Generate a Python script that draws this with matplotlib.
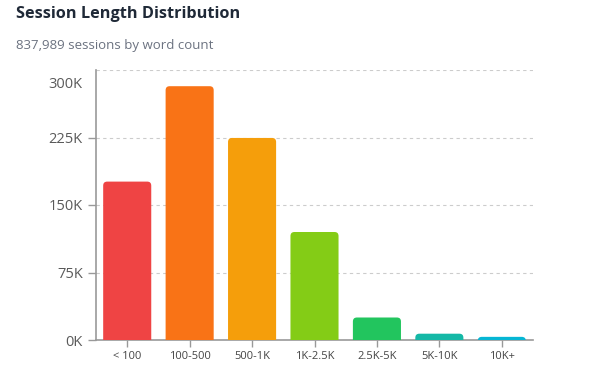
import matplotlib
matplotlib.use("Agg")
import matplotlib.pyplot as plt
from matplotlib.patches import FancyBboxPatch
from matplotlib.ticker import FuncFormatter
from matplotlib.transforms import ScaledTranslation

categories = ["< 100", "100-500", "500-1K", "1K-2.5K", "2.5K-5K", "5K-10K", "10K+"]
sessions = [176000, 282000, 224500, 120000, 25000, 7000, 3500]
colors = ["#EF4444", "#F97316", "#F59E0B", "#84CC16", "#22C55E", "#14B8A6", "#06B6D4"]
yticks = [0, 75000, 150000, 225000, 300000]

plt.rcParams['font.family'] = ['Open Sans', 'DejaVu Sans']

fig = plt.figure(figsize=(5.99, 3.67), dpi=100)
ax = fig.add_axes([96/599, 1-340/367, 437/599, 270/367])

n = len(categories)
ax.set_xlim(-0.5, n - 0.5)
ax.set_ylim(0, 300000)

bw = 0.77
px_x = n / 437.0
px_y = 300000 / 270.0
r = 4
for i, (v, c) in enumerate(zip(sessions, colors)):
    x0 = i - bw / 2
    p = FancyBboxPatch((x0, -r * px_y * 2), bw, v + r * px_y * 2,
                       boxstyle=f"round,pad=0,rounding_size={r*px_x}",
                       mutation_aspect=px_y / px_x,
                       facecolor=c, edgecolor="none", zorder=3)
    ax.add_patch(p)

ax.set_xticks(range(n))
ax.set_xticklabels(categories, fontsize=8, color="#444444")
ax.set_yticks(yticks)
ax.yaxis.set_major_formatter(FuncFormatter(lambda v, p: f"{int(v/1000)}K"))
ax.tick_params(axis='y', labelsize=10.5, labelcolor="#5a5a5a", color="#999999", length=6, width=1)
ax.tick_params(axis='x', color="#999999", length=5, width=1, pad=3)

# top tick: no tick mark, label nudged down inside the plot area
fig.canvas.draw()
top = ax.yaxis.get_major_ticks()[-1]
top.tick1line.set_visible(False)
top.label1.set_transform(top.label1.get_transform() +
                         ScaledTranslation(0, -12/100, fig.dpi_scale_trans))

for s in ["top", "right"]:
    ax.spines[s].set_visible(False)
for s in ["left", "bottom"]:
    ax.spines[s].set_color("#999999")
    ax.spines[s].set_linewidth(1.2)

ax.grid(axis='y', linestyle=(0, (3, 3)), color="#cccccc", linewidth=0.8, zorder=0)
ax.set_axisbelow(True)

fig.text(16/599, 1-14/367, "Session Length Distribution", fontsize=11.7, fontweight="bold",
         color="#1f2937", va="center", ha="left")
fig.text(16/599, 1-45/367, "837,989 sessions by word count", fontsize=9.5, color="#6b7280",
         va="center", ha="left")

fig.savefig("out.png", dpi=100)
